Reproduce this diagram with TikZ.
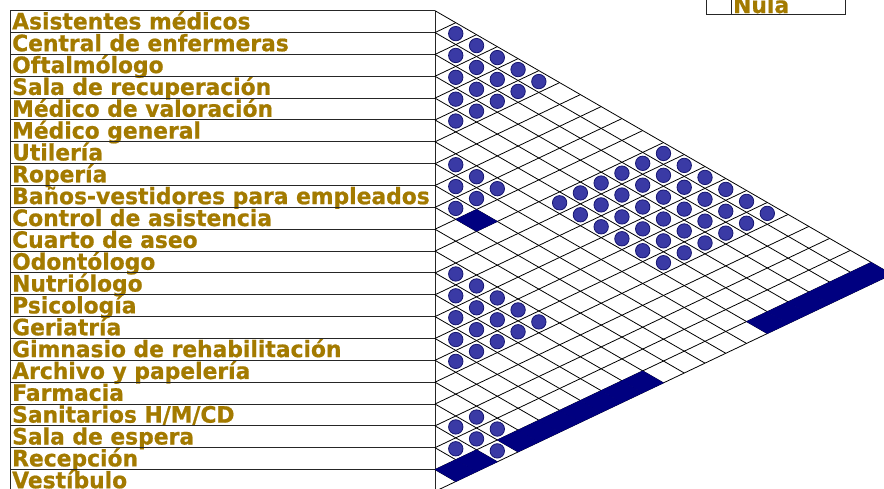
\documentclass[tikz,border=0pt]{standalone}
\usepackage{fontspec}
\newfontfamily\labelfont{DejaVu Sans Bold}[FakeStretch=0.965,FakeBold=0.8]
\usetikzlibrary{calc}

\definecolor{labelgold}{RGB}{163,122,0}
\definecolor{relblue}{RGB}{58,58,165}
\definecolor{relnavy}{RGB}{22,22,112}
\definecolor{bandnavy}{RGB}{0,0,128}

% geometry of the matrix, in pixels of the chart
\newcommand\rowh{21.85}
\newcommand\ytop{10.7}
\newcommand\xgrid{435}
\newcommand\slopedown{0.577}
\newcommand\slopeup{0.475}
\newcommand\cellw{20.77}

\begin{document}
\begin{tikzpicture}[
    x=1pt,
    y=-1pt,
    rowlabel/.style={
        anchor=base west,
        inner sep=0pt,
        text=labelgold,
        font=\labelfont\fontsize{22.6}{23}\selectfont
    },
    tableline/.style={
        draw=black!85,
        line width=1pt
    },
    gridline/.style={
        draw=black,
        line width=0.8pt
    },
    relcircle/.style={
        circle,
        draw=relnavy,
        line width=0.8pt,
        fill=relblue,
        minimum size=14.4pt,
        inner sep=0pt
    },
    relcell/.style={
        fill=bandnavy,
        draw=bandnavy,
        line width=0.3pt
    }
]

\useasboundingbox (0,0) rectangle (884,488);
\clip (0,0) rectangle (884,488);

% legend (cut by the frame)
\draw[tableline] (706,-12) rectangle (845,14.5);
\draw[tableline] (731,-12) -- (731,14.5);
\node[rowlabel] (legnula) at (733,13) {Nula};

% row labels
\foreach \name [count=\k] in {
    Asistentes médicos,
    Central de enfermeras,
    Oftalmólogo,
    Sala de recuperación,
    Médico de valoración,
    Médico general,
    Utilería,
    Ropería,
    Baños-vestidores para empleados,
    Control de asistencia,
    Cuarto de aseo,
    Odontólogo,
    Nutriólogo,
    Psicología,
    Geriatría,
    Gimnasio de rehabilitación,
    Archivo y papelería,
    Farmacia,
    Sanitarios H/M/CD,
    Sala de espera,
    Recepción,
    Vestíbulo
}{
    \node[rowlabel] (lab\k) at (12,{\ytop+\k*\rowh-3.2}) {\name};
}

% label table
\draw[tableline] (10,\ytop) -- (10,500);
\draw[tableline] (\xgrid,\ytop) -- (\xgrid,500);
\foreach \k in {0,...,22}{
    \draw[tableline] (10,{\ytop+\k*\rowh}) -- (\xgrid,{\ytop+\k*\rowh});
}

% diagonal grid
\foreach \k in {0,...,22}{
    \pgfmathsetmacro\yk{\ytop+\k*\rowh}
    \pgfmathsetmacro\dxdown{(22-\k)*\cellw}
    \pgfmathsetmacro\dxup{\k*\cellw}
    \draw[gridline] (\xgrid,\yk) -- ++(\dxdown,{\slopedown*\dxdown});
    \draw[gridline] (\xgrid,\yk) -- ++(\dxup,{-\slopeup*\dxup});
}

% filled cells
\foreach \i/\j in {9/11,20/22,21/22,12/22,13/22,14/22,15/22,16/22,17/22,18/22,
                   1/22,2/22,3/22,4/22,5/22,6/22}{
    \pgfmathsetmacro\xa{\xgrid+(\j-\i-1)*\cellw}
    \pgfmathsetmacro\xb{\xgrid+(\j-\i)*\cellw}
    \pgfmathsetmacro\xc{\xgrid+(\j-\i+1)*\cellw}
    \pgfmathsetmacro\ya{\ytop+\i*\rowh+\slopedown*(\j-\i-1)*\cellw}
    \pgfmathsetmacro\ytp{\ytop+(\i-1)*\rowh+\slopedown*(\j-\i)*\cellw}
    \pgfmathsetmacro\ybt{\ytop+\i*\rowh+\slopedown*(\j-\i)*\cellw}
    \pgfmathsetmacro\yr{\ytop+(\i-1)*\rowh+\slopedown*(\j-\i+1)*\cellw}
    \path[relcell] (\xa,\ya) -- (\xb,\ytp) -- (\xc,\yr) -- (\xb,\ybt) -- cycle;
}

% circles: full blocks
\foreach \lo/\hi in {1/6,7/10,12/17}{
    \foreach \i in {\lo,...,\hi}{
        \foreach \j in {\i,...,\hi}{
            \ifnum\j>\i
                \node[relcircle] (c\i-\j) at
                    ({\xgrid+(\j-\i)*\cellw},
                     {\ytop+(\i-0.5)*\rowh+\slopedown*(\j-\i)*\cellw}) {};
            \fi
        }
    }
}
% circles: rows 1-6 with rows 12-17
\foreach \i in {1,...,6}{
    \foreach \j in {12,...,17}{
        \node[relcircle] (c\i-\j) at
            ({\xgrid+(\j-\i)*\cellw},
             {\ytop+(\i-0.5)*\rowh+\slopedown*(\j-\i)*\cellw}) {};
    }
}
% circles: lower group
\foreach \i/\j in {18/20,18/21,19/20,19/21,19/22,20/21}{
    \node[relcircle] (c\i-\j) at
        ({\xgrid+(\j-\i)*\cellw},
         {\ytop+(\i-0.5)*\rowh+\slopedown*(\j-\i)*\cellw}) {};
}

\end{tikzpicture}
\end{document}
